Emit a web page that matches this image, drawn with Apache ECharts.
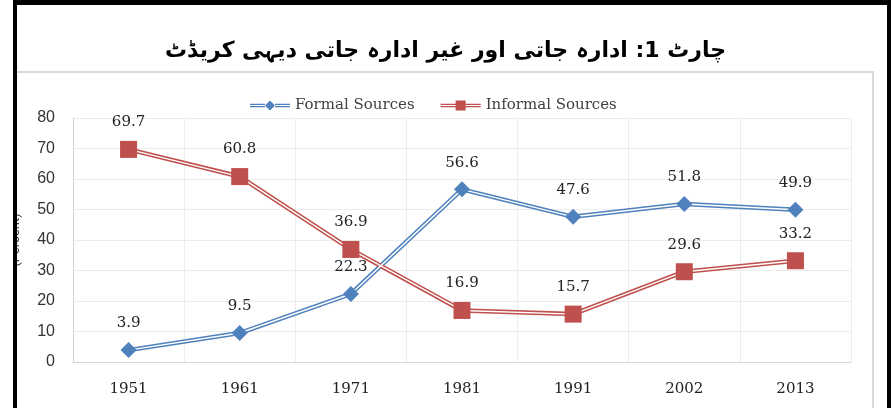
<!DOCTYPE html>
<html lang="ur">
<head>
<meta charset="UTF-8">
<title>چارٹ 1</title>
<script src="https://cdn.jsdelivr.net/npm/echarts@6/dist/echarts.min.js"></script>
<style>
  html, body { margin: 0; padding: 0; background: #fff; }
  #chart { width: 891px; height: 408px; }
</style>
</head>
<body>
<div id="chart"></div>
<script>
var years = ['1951', '1961', '1971', '1981', '1991', '2002', '2013'];
var formal = [3.9, 9.5, 22.3, 56.6, 47.6, 51.8, 49.9];
var informal = [69.7, 60.8, 36.9, 16.9, 15.7, 29.6, 33.2];
var yTicks = [0, 80, 10];

var blue = '#4F81BD';
var red = '#C0504D';
var serif = '"DejaVu Serif", "Liberation Serif", serif';

// title is RTL Urdu, wrap it in an RTL embedding so "1:" sits right
var titleText = '\u202B' + 'چارٹ 1: ادارہ جاتی اور غیر ادارہ جاتی دیہی کریڈٹ' + '\u202C';

// double line: wide coloured stroke, thin white stroke on top, then markers
function doubleLine(name, data, color, symbol, size) {
    return [
        {
            name: name, type: 'line', data: data, z: 2,
            showSymbol: false, silent: true,
            lineStyle: { color: color, width: 4.5 },
            itemStyle: { color: color }
        },
        {
            name: name, type: 'line', data: data, z: 3,
            showSymbol: false, silent: true,
            lineStyle: { color: '#fff', width: 1.4 },
            itemStyle: { color: color }
        },
        {
            name: name, type: 'line', data: data, z: 4,
            symbol: symbol, symbolSize: size, showAllSymbol: true,
            lineStyle: { width: 0, opacity: 0 },
            itemStyle: { color: color },
            label: {
                show: true, position: 'top', distance: 11,
                fontFamily: serif, fontSize: 15, color: '#222'
            }
        }
    ];
}

var chart = echarts.init(document.getElementById('chart'));

var option = {
    backgroundColor: '#fff',
    animation: false,
    title: {
        text: titleText,
        left: 'center',
        top: 35,
        textStyle: {
            fontFamily: '"DejaVu Sans", sans-serif',
            fontWeight: 'bold',
            fontSize: 22,
            color: '#000'
        }
    },
    legend: {
        left: 245,
        top: 93,
        itemWidth: 40,
        itemHeight: 10,
        itemGap: 26,
        textStyle: { fontFamily: serif, fontSize: 15, color: '#404040' },
        data: [
            { name: 'Formal Sources',
              icon: 'path://M0,3.2h15v1.2H0z M0,5.6h15v1.2H0z M25,3.2h15v1.2H25z M25,5.6h15v1.2H25z M15,5L20,0L25,5L20,10z' },
            { name: 'Informal Sources',
              icon: 'path://M0,3.2h15v1.2H0z M0,5.6h15v1.2H0z M25,3.2h15v1.2H25z M25,5.6h15v1.2H25z M15,0h10v10H15z' }
        ]
    },
    grid: { left: 73, right: 40, top: 118, bottom: 46 },
    xAxis: {
        type: 'category',
        data: years,
        boundaryGap: true,
        axisLine: { lineStyle: { color: '#d4d4d4' } },
        axisTick: { show: false },
        splitLine: { show: true, lineStyle: { color: '#ececec' } },
        axisLabel: { margin: 20, fontFamily: serif, fontSize: 15, color: '#222' }
    },
    yAxis: {
        type: 'value',
        min: yTicks[0],
        max: yTicks[1],
        interval: yTicks[2],
        name: '(Percent)',
        nameLocation: 'middle',
        nameGap: 51,
        nameTextStyle: { fontFamily: 'Roboto, sans-serif', fontSize: 13, color: '#333' },
        axisLine: { show: true, lineStyle: { color: '#d4d4d4' } },
        axisTick: { show: false },
        splitLine: { lineStyle: { color: '#ececec' } },
        axisLabel: { margin: 18, fontFamily: '"Liberation Sans Narrow", "Liberation Sans", sans-serif', fontSize: 16, color: '#333' }
    },
    graphic: [
        { type: 'rect', z: 100, shape: { x: 0, y: 0, width: 13, height: 408 }, style: { fill: '#fff' } },
        { type: 'rect', z: 100, shape: { x: 17, y: 71, width: 857, height: 2 }, style: { fill: '#d9d9d9' } },
        { type: 'rect', z: 100, shape: { x: 872, y: 71, width: 2, height: 337 }, style: { fill: '#d9d9d9' } },
        { type: 'rect', z: 100, shape: { x: 13, y: 0, width: 878, height: 5 }, style: { fill: '#000' } },
        { type: 'rect', z: 100, shape: { x: 13, y: 0, width: 4, height: 408 }, style: { fill: '#000' } },
        { type: 'rect', z: 100, shape: { x: 887, y: 0, width: 4, height: 408 }, style: { fill: '#000' } }
    ],
    series: [].concat(
        doubleLine('Formal Sources', formal, blue, 'diamond', 16),
        doubleLine('Informal Sources', informal, red, 'rect', 17)
    )
};

chart.setOption(option);
</script>
</body>
</html>
